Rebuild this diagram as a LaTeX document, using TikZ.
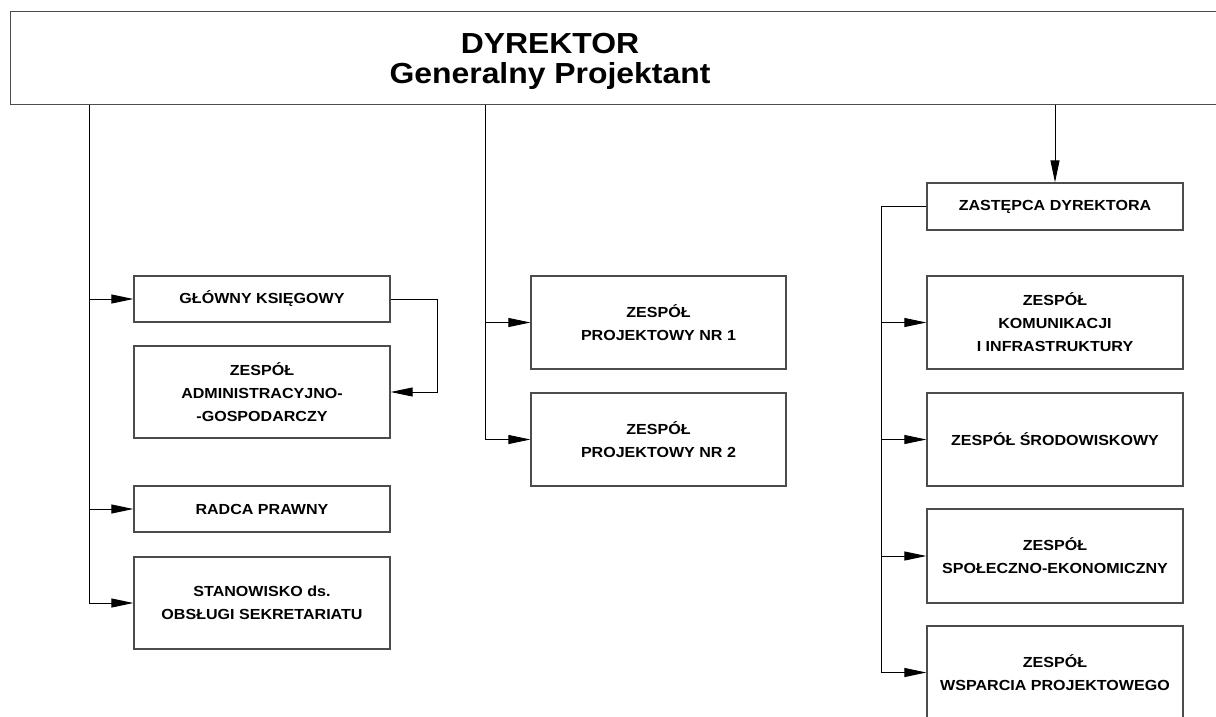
\documentclass[tikz,border=0pt]{standalone}
\usepackage{fontspec}
\setmainfont{Liberation Sans}[FakeStretch=1.1]
\usetikzlibrary{arrows.meta}

\tikzset{
  kasten/.style={draw=black!70, line width=1.3pt, minimum width=256pt, align=center, inner sep=2pt, font=\fontsize{14.6}{23}\selectfont\bfseries},
  pfeil/.style={line width=0.9pt, -{Triangle[length=22pt,width=9pt]}},
  linie/.style={line width=0.9pt}
}

\begin{document}
\begin{tikzpicture}[x=1pt,y=-1pt]
%Bild ist 1216x716, ich rechne direkt in Pixeln (y nach unten)
\useasboundingbox (0,0) rectangle (1216,716);
\clip (0,0) rectangle (1216,716);
  \pgfmathsetmacro{\xL}{262}
  \pgfmathsetmacro{\xM}{658.5}
  \pgfmathsetmacro{\xR}{1055}
%Kopf, rechts abgeschnitten
\node[draw=black!70, line width=1.3pt, anchor=north west, minimum width=1240pt, minimum height=93pt] (dyrbox) at (10,11) {};
\node[font=\fontsize{29}{30}\selectfont\bfseries, align=center] (dyr) at (550,61) {DYREKTOR\\Generalny Projektant};
%linke Spalte
\node[kasten, minimum height=46pt] (glowny) at (\xL,299) {GŁÓWNY KSIĘGOWY};
\node[kasten, minimum height=92pt] (admin) at (\xL,392) {ZESPÓŁ\\ADMINISTRACYJNO-\\-GOSPODARCZY};
\node[kasten, minimum height=46pt] (radca) at (\xL,509) {RADCA PRAWNY};
\node[kasten, minimum height=92pt] (stan) at (\xL,603) {STANOWISKO ds.\\OBSŁUGI SEKRETARIATU};
%mittlere Spalte
\node[kasten, minimum width=255pt, minimum height=93pt] (nr1) at (\xM,322.5) {ZESPÓŁ\\PROJEKTOWY NR 1};
\node[kasten, minimum width=255pt, minimum height=93pt] (nr2) at (\xM,439.5) {ZESPÓŁ\\PROJEKTOWY NR 2};
%rechte Spalte
\node[kasten, minimum height=47pt] (zast) at (\xR,206.5) {ZASTĘPCA DYREKTORA};
\node[kasten, minimum height=93pt] (kom) at (\xR,322.5) {ZESPÓŁ\\KOMUNIKACJI\\I INFRASTRUKTURY};
\node[kasten, minimum height=93pt] (srod) at (\xR,439.5) {ZESPÓŁ ŚRODOWISKOWY};
\node[kasten, minimum height=94pt] (spol) at (\xR,556) {ZESPÓŁ\\SPOŁECZNO-EKONOMICZNY};
\node[kasten, minimum height=93pt] (wsp) at (\xR,672.5) {ZESPÓŁ\\WSPARCIA PROJEKTOWEGO};
%Verbindungen
\coordinate (lx) at (89,0);
\coordinate (mx) at (485,0);
\coordinate (rx) at (881,0);
\coordinate (gx) at (437,0);
\draw[linie] (dyrbox.south -| lx) -- (lx |- stan.west);
\foreach \n in {glowny,radca,stan}{
\draw[pfeil] (lx |- \n.west) -- (\n.west);
}
\draw[pfeil] (glowny.east) -| (gx |- admin.east) -- (admin.east);
\draw[linie] (dyrbox.south -| mx) -- (mx |- nr2.west);
\foreach \n in {nr1,nr2}{
\draw[pfeil] (mx |- \n.west) -- (\n.west);
}
\draw[pfeil] (dyrbox.south -| zast.north) -- (zast.north);
\draw[linie] (zast.west) -| (rx |- wsp.west);
\foreach \n in {kom,srod,spol,wsp}{
\draw[pfeil] (rx |- \n.west) -- (\n.west);
}
\end{tikzpicture}
\end{document}
